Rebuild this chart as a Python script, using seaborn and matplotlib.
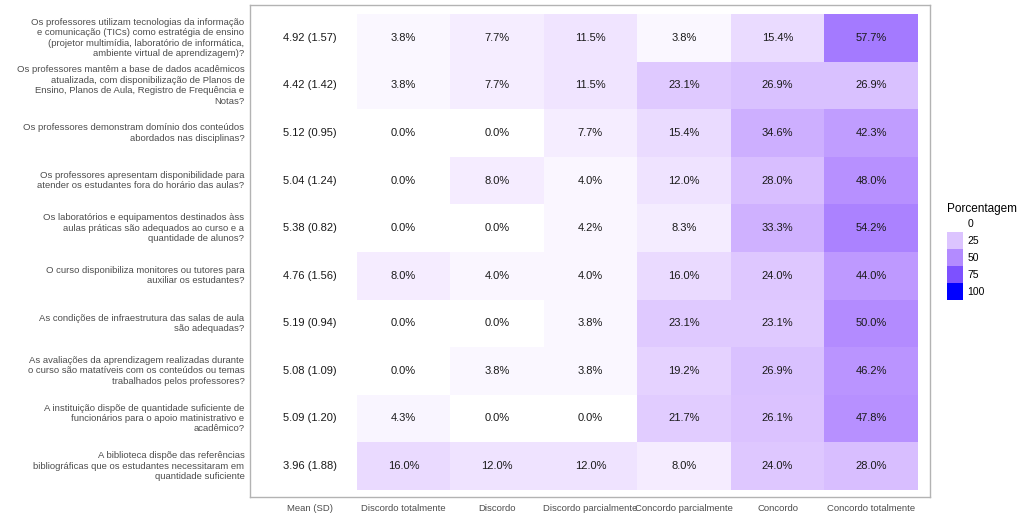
import numpy as np
import pandas as pd
import matplotlib
matplotlib.use("Agg")
from matplotlib import pyplot as plt
from matplotlib.colors import ListedColormap
from matplotlib.patches import Patch
import seaborn as sns

# Survey items (rows)
questions = [
    "Os professores utilizam tecnologias da informação\ne comunicação (TICs) como estratégia de ensino\n(projetor multimídia, laboratório de informática,\nambiente virtual de aprendizagem)?",
    "Os professores mantêm a base de dados acadêmicos\natualizada, com disponibilização de Planos de\nEnsino, Planos de Aula, Registro de Frequência e\nNotas?",
    "Os professores demonstram domínio dos conteúdos\nabordados nas disciplinas?",
    "Os professores apresentam disponibilidade para\natender os estudantes fora do horário das aulas?",
    "Os laboratórios e equipamentos destinados àss\naulas práticas são adequados ao curso e a\nquantidade de alunos?",
    "O curso disponibiliza monitores ou tutores para\nauxiliar os estudantes?",
    "As condições de infraestrutura das salas de aula\nsão adequadas?",
    "As avaliações da aprendizagem realizadas durante\no curso são matatíveis com os conteúdos ou temas\ntrabalhados pelos professores?",
    "A instituição dispõe de quantidade suficiente de\nfuncionários para o apoio matinistrativo e\nacadêmico?",
    "A biblioteca dispõe das referências\nbibliográficas que os estudantes necessitaram em\nquantidade suficiente",
]

levels = ["Discordo totalmente", "Discordo", "Discordo parcialmente",
          "Concordo parcialmente", "Concordo", "Concordo totalmente"]

mean_sd = ["4.92 (1.57)", "4.42 (1.42)", "5.12 (0.95)", "5.04 (1.24)", "5.38 (0.82)",
           "4.76 (1.56)", "5.19 (0.94)", "5.08 (1.09)", "5.09 (1.20)", "3.96 (1.88)"]

discordo_totalmente = [3.8, 3.8, 0.0, 0.0, 0.0, 8.0, 0.0, 0.0, 4.3, 16.0]
discordo = [7.7, 7.7, 0.0, 8.0, 0.0, 4.0, 0.0, 3.8, 0.0, 12.0]
discordo_parcialmente = [11.5, 11.5, 7.7, 4.0, 4.2, 4.0, 3.8, 3.8, 0.0, 12.0]
concordo_parcialmente = [3.8, 23.1, 15.4, 12.0, 8.3, 16.0, 23.1, 19.2, 21.7, 8.0]
concordo = [15.4, 26.9, 34.6, 28.0, 33.3, 24.0, 23.1, 26.9, 26.1, 24.0]
concordo_totalmente = [57.7, 26.9, 42.3, 48.0, 54.2, 44.0, 50.0, 46.2, 47.8, 28.0]

legend_breaks = [0, 25, 50, 75, 100]


# white -> blue gradient interpolated in Lab space (like ggplot's scale_fill_gradient)
def srgb_to_lab(rgb):
    c = np.asarray(rgb, dtype=float)
    lin = np.where(c <= 0.04045, c / 12.92, ((c + 0.055) / 1.055) ** 2.4)
    M = np.array([[0.4124, 0.3576, 0.1805],
                  [0.2126, 0.7152, 0.0722],
                  [0.0193, 0.1192, 0.9505]])
    xyz = M @ lin / np.array([0.95047, 1.0, 1.08883])
    f = np.where(xyz > 216 / 24389, np.cbrt(xyz), (24389 / 27 * xyz + 16) / 116)
    return np.array([116 * f[1] - 16, 500 * (f[0] - f[1]), 200 * (f[1] - f[2])])


def lab_to_srgb(lab):
    L, a, b = lab
    fy = (L + 16) / 116
    fx = fy + a / 500
    fz = fy - b / 200
    f = np.array([fx, fy, fz])
    xyz = np.where(f ** 3 > 216 / 24389, f ** 3, (116 * f - 16) / (24389 / 27))
    xyz = xyz * np.array([0.95047, 1.0, 1.08883])
    Minv = np.array([[3.2406, -1.5372, -0.4986],
                     [-0.9689, 1.8758, 0.0415],
                     [0.0557, -0.2040, 1.0570]])
    lin = np.clip(Minv @ xyz, 0, 1)
    c = np.where(lin <= 0.0031308, 12.92 * lin, 1.055 * lin ** (1 / 2.4) - 0.055)
    return np.clip(c, 0, 1)


lab_lo = srgb_to_lab([1, 1, 1])
lab_hi = srgb_to_lab([0, 0, 1])
cmap = ListedColormap([lab_to_srgb(lab_lo + t * (lab_hi - lab_lo))
                       for t in np.linspace(0, 1, 256)])

# table: first column (Mean (SD)) has no fill
df = pd.DataFrame({
    "Mean (SD)": np.nan,
    levels[0]: discordo_totalmente,
    levels[1]: discordo,
    levels[2]: discordo_parcialmente,
    levels[3]: concordo_parcialmente,
    levels[4]: concordo,
    levels[5]: concordo_totalmente,
}, index=questions)

annot = df.map(lambda v: "" if pd.isna(v) else f"{v:.1f}%")

plt.rcParams["font.family"] = ["Liberation Sans", "DejaVu Sans"]

fig = plt.figure(figsize=(10.24, 5.29), dpi=100)
ax = fig.add_axes([250 / 1024, 1 - 497 / 529, 680 / 1024, 492 / 529])

sns.heatmap(
    data=df,
    cmap=cmap,
    vmin=0,
    vmax=100,
    annot=annot.values,
    fmt="",
    annot_kws={"fontsize": 8, "color": "#1a1a1a"},
    cbar=False,
    linewidths=0,
    ax=ax,
)

# mean (sd) texts in the first column
for i, txt in enumerate(mean_sd):
    ax.text(0.5, i + 0.5, txt, ha="center", va="center", fontsize=8, color="#1a1a1a")

ax.set_xlim(-0.14, 7.13)
ax.set_ylim(10.15, -0.19)
ax.set_xlabel("")
ax.set_ylabel("")

for s in ax.spines.values():
    s.set_visible(True)
    s.set_color("#b3b3b3")
    s.set_linewidth(1.0)

ax.tick_params(axis="both", length=0, labelsize=6.8, labelcolor="#4d4d4d")
ax.tick_params(axis="y", pad=4)
ax.tick_params(axis="x", pad=5)
plt.setp(ax.get_yticklabels(), rotation=0, ha="right", multialignment="right")
plt.setp(ax.get_xticklabels(), rotation=0)

# legend
handles = [Patch(facecolor=cmap(b / 100), edgecolor="none", label=str(b)) for b in legend_breaks]
fig.legend(
    handles=handles,
    title="Porcentagem",
    loc="upper left",
    bbox_to_anchor=(938 / 1024, 1 - 194 / 529),
    frameon=False,
    fontsize=7.5,
    title_fontsize=8.5,
    handlelength=1.54,
    handleheight=2.13,
    labelspacing=0.0,
    handletextpad=0.4,
    alignment="left",
)

fig.savefig("out.png", dpi=100)
